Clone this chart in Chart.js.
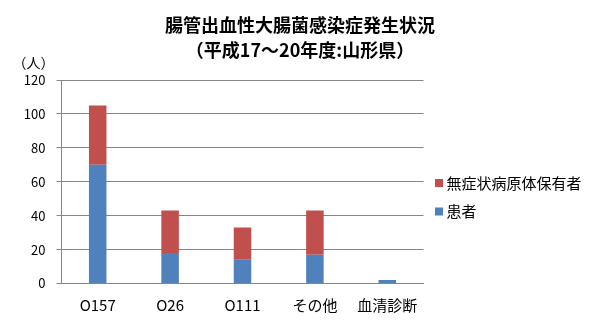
<!DOCTYPE html>
<html>
<head>
<meta charset="utf-8">
<script src="https://cdn.jsdelivr.net/npm/chart.js@4"></script>
<style>
  html, body { margin: 0; padding: 0; background: #fff; }
  #wrap { width: 600px; height: 333px; }
</style>
</head>
<body>
<div id="wrap"><canvas id="myChart"></canvas></div>
<script>
const categories = ['O157', 'O26', 'O111', 'その他', '血清診断']
const patients = [70, 18, 14, 17, 2]
const carriers = [35, 25, 19, 26, 0]
const yTicks = [0, 20, 40, 60, 80, 100, 120]
const titleLines = ['腸管出血性大腸菌感染症発生状況', '（平成17～20年度:山形県）']

const ctx = document.getElementById('myChart')

Chart.defaults.font.family = "'Noto Sans CJK JP', 'Noto Sans', sans-serif"
Chart.defaults.color = '#000'

// title centred on the whole picture, "（人）" unit, legend right of the plot
const extras = {
    id: 'extras',
    afterDraw(chart) {
        const c = chart.ctx
        const area = chart.chartArea
        c.save()
        c.fillStyle = '#000'
        c.textBaseline = 'middle'
        c.textAlign = 'center'
        c.font = "bold 18px 'Noto Sans CJK JP', sans-serif"
        titleLines.forEach((t, i) => c.fillText(t, chart.width / 2, 25 + i * 25))

        c.font = "14px 'Noto Sans CJK JP', sans-serif"
        c.fillText('（人）', area.left - 28, area.top - 17)

        // carriers first, like the stack reads top to bottom
        c.textAlign = 'left'
        c.font = "15px 'Noto Sans CJK JP', sans-serif"
        const items = chart.data.datasets.slice().reverse()
        items.forEach((ds, i) => {
            const y = area.top + 103 + i * 28.5
            c.fillStyle = ds.backgroundColor
            c.fillRect(area.right + 11.5, y - 4, 8, 8)
            c.fillStyle = '#000'
            c.fillText(ds.label, area.right + 23, y)
        })
        c.restore()
    }
}

new Chart(ctx, {
    type: 'bar',
    data: {
        labels: categories,
        datasets: [{
            label: '患者',
            data: patients,
            backgroundColor: '#4F81BD',
            barPercentage: 0.242,
            categoryPercentage: 1
        }, {
            label: '無症状病原体保有者',
            data: carriers,
            backgroundColor: '#C0504D',
            barPercentage: 0.242,
            categoryPercentage: 1
        }]
    },
    options: {
        responsive: true,
        maintainAspectRatio: false,
        animation: false,
        layout: {
            padding: { left: 20, right: 176.5, top: 80, bottom: 0 }
        },
        plugins: {
            title: { display: false },
            legend: { display: false },
            tooltip: { enabled: false }
        },
        scales: {
            x: {
                stacked: true,
                grid: { display: false },
                border: { display: true, color: '#868686' },
                ticks: { padding: 4.5, font: { size: 15 }, maxRotation: 0 },
                afterFit: (scale) => { scale.height = 49.5 }
            },
            y: {
                stacked: true,
                min: 0,
                max: 120,
                afterBuildTicks: (scale) => {
                    scale.ticks = yTicks.map(v => ({ value: v }))
                },
                grid: {
                    color: '#868686',
                    tickLength: 5,
                    tickColor: '#868686'
                },
                border: { display: true, color: '#868686' },
                ticks: { padding: 11, font: { size: 13 } },
                afterFit: (scale) => { scale.width = 41.5 }
            }
        }
    },
    plugins: [extras]
})
</script>
</body>
</html>
